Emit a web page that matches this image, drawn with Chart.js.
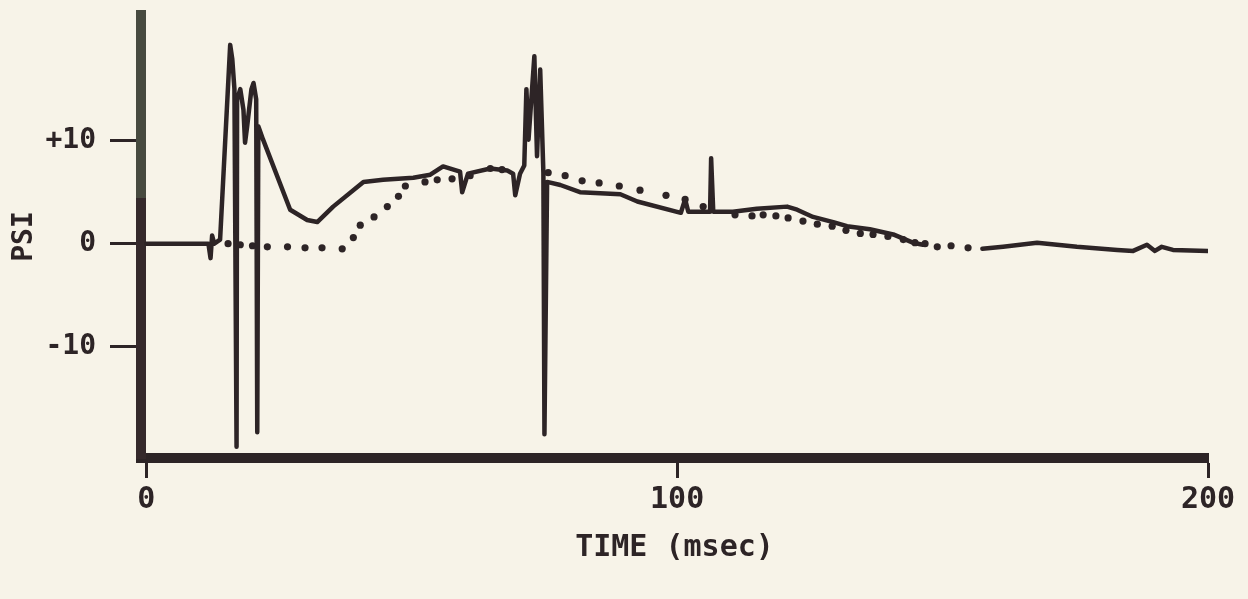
<!DOCTYPE html>
<html>
<head>
<meta charset="utf-8">
<script src="https://cdn.jsdelivr.net/npm/chart.js@4.4.0/dist/chart.umd.min.js"></script>
<style>
  html, body { margin: 0; padding: 0; background: #f7f3e8; }
  #chart { display: block; }
</style>
</head>
<body>
<canvas id="chart" width="1248" height="599"></canvas>
<script>
// solid trace: time (msec) and pressure (psi), null = pen lifted
const traceTime = [0, 11.7, 12.1, 12.4, 12.8, 13.9, 15.8, 16.2, 16.6, 17.0, 17.1, 17.7, 18.3, 18.6, 19.0,
  19.8, 20.2, 20.7, 20.9, 21.1, 22.0, 27.1, 30.3, 32.2, 35.2, 40.9, 44.6, 50.3, 53.5, 55.9, 59.1,
  59.5, 60.6, 64.8, 68.0, 69.1, 69.5, 70.4, 71.2, 71.6, 72.0, 73.1, 73.6, 74.2, 74.8, 75.0, 75.5,
  78.0, 81.7, 89.3, 92.5, 100.7, 101.5, 102.1, 105.0, 106.2, 106.4, 106.8, 110.5, 115.0, 120.7,
  122.6, 125.6, 129.4, 132.0, 136.3, 140.7, 144.4, 146.3, 150.0, 157.5, 161.4, 167.8, 175.3,
  182.9, 185.9, 188.5, 190.0, 191.3, 193.4, 200];
const tracePsi = [0, 0, -1.4, 0.8, 0, 0.4, 19.3, 17.9, 15.0, -19.7, 14.0, 15.0, 13.0, 9.8, 11.4,
  15.0, 15.6, 14.0, -18.3, 11.4, 10.1, 3.3, 2.3, 2.1, 3.6, 6.0, 6.2, 6.4, 6.7, 7.5, 7.0,
  5.0, 6.8, 7.3, 7.1, 6.8, 4.7, 6.8, 7.6, 15.0, 10.1, 18.2, 8.5, 16.9, 6.9, -18.5, 6.0,
  5.7, 5.0, 4.8, 4.1, 3.0, 4.3, 3.1, 3.1, 3.1, 8.3, 3.1, 3.1, 3.4, 3.6,
  3.3, 2.6, 2.1, 1.7, 1.4, 0.9, 0.1, -0.1, null, -0.5, -0.3, 0.1, -0.3,
  -0.6, -0.7, -0.1, -0.7, -0.3, -0.6, -0.7];

// dotted trace
const dotTime = [15.4, 17.7, 20.0, 22.8, 26.6, 29.9, 33.1, 36.9, 39.0, 40.3, 42.9, 45.4, 47.5, 48.8,
  52.5, 54.8, 57.6, 61.0, 64.8, 67.0, 75.7, 78.9, 82.1, 85.3, 89.1, 93.0, 97.9, 101.5, 104.9,
  110.9, 114.1, 116.2, 118.6, 120.9, 123.7, 126.4, 129.2, 131.8, 134.5, 136.9, 139.7, 142.6,
  144.8, 146.7, 149.0, 151.6, 154.8];
const dotPsi = [0.0, -0.1, -0.2, -0.3, -0.3, -0.4, -0.4, -0.5, 0.6, 1.8, 2.6, 3.6, 4.6, 5.6,
  6.0, 6.2, 6.3, 6.6, 7.3, 7.2, 6.9, 6.6, 6.1, 5.9, 5.6, 5.2, 4.7, 4.3, 3.6,
  2.8, 2.7, 2.8, 2.7, 2.5, 2.2, 1.9, 1.7, 1.3, 1.0, 0.9, 0.7, 0.4,
  0.1, 0.0, -0.3, -0.2, -0.4];

const xTicks = [0, 100, 200];
const yTicks = [-10, 0, 10];

const ink = '#2d2426';
const labelFont = { family: 'DejaVu Sans Mono', size: 30, weight: 'bold' };
const yFont = { family: 'DejaVu Sans Mono', size: 28, weight: 'bold' };

const canvas = document.getElementById('chart');
const ctx = canvas.getContext('2d');

// the upper part of the printed y axis is a lighter grey-green
const yAxisColor = ctx.createLinearGradient(0, 10, 0, 458);
yAxisColor.addColorStop(0, '#474a3f');
yAxisColor.addColorStop(0.42, '#474a3f');
yAxisColor.addColorStop(0.42, '#35292b');
yAxisColor.addColorStop(1, '#35292b');

new Chart(ctx, {
  type: 'line',
  data: {
    datasets: [
      {
        data: traceTime.map((t, i) => ({ x: t, y: tracePsi[i] })),
        borderColor: ink,
        borderWidth: 4.5,
        pointRadius: 0,
        tension: 0,
        spanGaps: false,
        borderJoinStyle: 'round',
        borderCapStyle: 'round'
      },
      {
        data: dotTime.map((t, i) => ({ x: t, y: dotPsi[i] })),
        showLine: false,
        pointRadius: 3.6,
        pointBackgroundColor: ink,
        pointBorderWidth: 0
      }
    ]
  },
  options: {
    responsive: false,
    animation: false,
    layout: { padding: { top: 15, right: 40, left: 0, bottom: 0 } },
    plugins: { legend: { display: false }, tooltip: { enabled: false } },
    scales: {
      x: {
        type: 'linear',
        min: -1,
        max: 200,
        afterBuildTicks: (s) => { s.ticks = xTicks.map((v) => ({ value: v })); },
        afterFit: (s) => { s.height = 141; s.paddingLeft = 0; s.paddingRight = 0; },
        grid: { drawOnChartArea: false, tickLength: 20, tickWidth: 3, tickColor: ink },
        border: { width: 10, color: ink },
        ticks: { font: labelFont, color: ink, padding: 4, maxRotation: 0 },
        title: {
          display: true,
          text: 'TIME (msec)',
          font: labelFont,
          color: ink,
          padding: { top: 0, bottom: 33 }
        }
      },
      y: {
        min: -20.8,
        max: 22.2,
        afterBuildTicks: (s) => { s.ticks = yTicks.map((v) => ({ value: v })); },
        afterFit: (s) => { s.width = 141; s.paddingTop = 0; s.paddingBottom = 0; },
        grid: { drawOnChartArea: false, tickLength: 31, tickWidth: 3, tickColor: ink },
        border: { width: 10, color: yAxisColor },
        ticks: {
          font: yFont,
          color: ink,
          padding: 14,
          callback: (v) => (v > 0 ? '+' + v : String(v))
        },
        title: {
          display: true,
          text: 'PSI',
          font: yFont,
          color: ink,
          padding: { top: 8, bottom: 0 }
        }
      }
    }
  }
});
</script>
</body>
</html>
